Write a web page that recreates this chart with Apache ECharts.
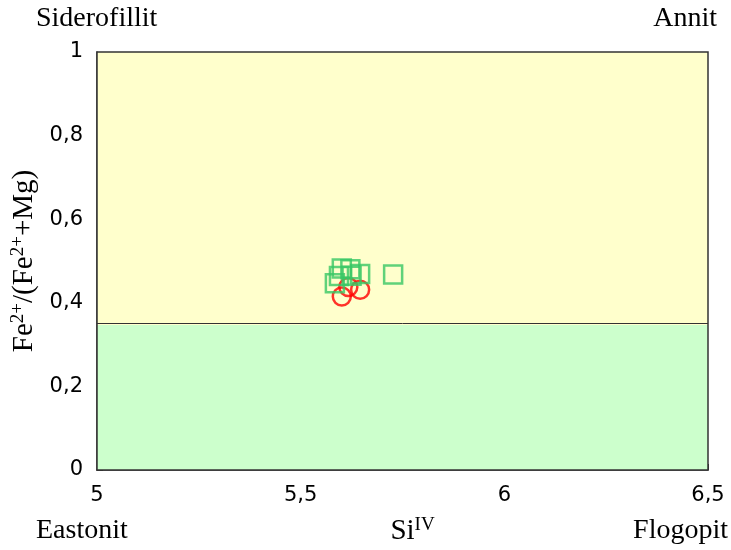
<!DOCTYPE html>
<html>
<head>
<meta charset="utf-8">
<script src="https://cdn.jsdelivr.net/npm/echarts@6/dist/echarts.min.js"></script>
<style>html,body{margin:0;padding:0;background:#fff}#c{width:731px;height:550px}</style>
</head>
<body>
<div id="c"></div>
<script>
// Biotite classification: Si(IV) vs Fe2+/(Fe2+ + Mg)
const xTicks = [5, 5.5, 6, 6.5];
const yTicks = [0, 0.2, 0.4, 0.6, 0.8, 1];
const fieldBoundary = 0.347;          // divides the upper (yellow) and lower (green) fields
const squareSi = [5.601, 5.622, 5.594, 5.584, 5.646, 5.727, 5.625];
const squareFe = [0.482, 0.480, 0.464, 0.447, 0.469, 0.468, 0.465];
const circleSi = [5.601, 5.646, 5.617];
const circleFe = [0.415, 0.431, 0.438];
const cornerNames = ['Siderofillit', 'Annit', 'Eastonit', 'Flogopit'];

const fmt = v => String(v).replace('.', ',');
const pairs = (xs, ys) => xs.map((x, i) => [x, ys[i]]);

const chart = echarts.init(document.getElementById('c'));
const serif = '"Liberation Serif","Times New Roman",serif';
const sans = '"DejaVu Sans",Arial,sans-serif';
const cornerFont = '28px ' + serif;
const nameRich = {
  b: { fontFamily: serif, fontSize: 29, color: '#000' },
  s: { fontFamily: serif, fontSize: 19, color: '#000', verticalAlign: 'top', padding: [0, 0, 11, 0] }
};

chart.setOption({
  animation: false,
  grid: { left: 97, right: 23, top: 52, bottom: 80, show: false, containLabel: false, outerBoundsMode: 'none' },
  xAxis: {
    type: 'value', min: xTicks[0], max: xTicks[xTicks.length - 1], interval: 0.5,
    axisLine: { show: true, lineStyle: { color: '#333', width: 1.5 } },
    axisTick: { show: true, inside: true, length: 6, lineStyle: { color: '#333' } },
    splitLine: { show: false },
    axisLabel: { formatter: fmt, fontFamily: sans, fontSize: 21, color: '#000', margin: 15 },
    name: '{b|Si}{s|IV}', nameLocation: 'middle', nameGap: 46,
    nameTextStyle: { padding: [0, 0, 0, 20], rich: nameRich }
  },
  yAxis: {
    type: 'value', min: yTicks[0], max: yTicks[yTicks.length - 1], interval: 0.2,
    axisLine: { show: true, lineStyle: { color: '#333', width: 1.5 } },
    axisTick: { show: true, inside: true, length: 6, lineStyle: { color: '#333' } },
    splitLine: { show: false },
    axisLabel: { formatter: fmt, fontFamily: sans, fontSize: 21, color: '#000', margin: 14 },
    name: '{b|Fe}{s|2+}{b|/(Fe}{s|2+}{b|+Mg)}', nameLocation: 'middle', nameGap: 58, nameRotate: 90,
    nameTextStyle: { rich: nameRich }
  },
  graphic: [
    { type: 'rect', shape: { x: 97, y: 52, width: 611, height: 418 }, style: { fill: 'none', stroke: '#333', lineWidth: 1.5 }, z: 10 },
    { type: 'text', left: 36, top: 5, style: { text: cornerNames[0], font: cornerFont, fill: '#000' } },
    { type: 'text', right: 14, top: 5, style: { text: cornerNames[1], font: cornerFont, fill: '#000' } },
    { type: 'text', left: 36, top: 517, style: { text: cornerNames[2], font: cornerFont, fill: '#000' } },
    { type: 'text', right: 3, top: 517, style: { text: cornerNames[3], font: cornerFont, fill: '#000' } }
  ],
  series: [
    {
      type: 'scatter', data: [], silent: true,
      markArea: {
        silent: true,
        data: [
          [{ coord: [5, fieldBoundary], itemStyle: { color: '#ffffcc' } }, { coord: [6.5, 1] }],
          [{ coord: [5, 0], itemStyle: { color: '#ccffcc' } }, { coord: [6.5, fieldBoundary] }]
        ]
      },
      markLine: {
        silent: true, symbol: 'none', label: { show: false },
        lineStyle: { color: '#333', width: 1, type: 'solid' },
        data: [{ yAxis: fieldBoundary }]
      }
    },
    {
      type: 'scatter', data: pairs(squareSi, squareFe), symbol: 'rect', symbolSize: 18,
      itemStyle: { color: 'rgba(0,0,0,0)', borderColor: '#38c764', borderWidth: 2.5 }, z: 3
    },
    {
      type: 'scatter', data: pairs(circleSi, circleFe), symbol: 'circle', symbolSize: 18,
      itemStyle: { color: 'rgba(0,0,0,0)', borderColor: '#ff0000', borderWidth: 2.5 }, z: 2
    }
  ]
});
</script>
</body>
</html>
